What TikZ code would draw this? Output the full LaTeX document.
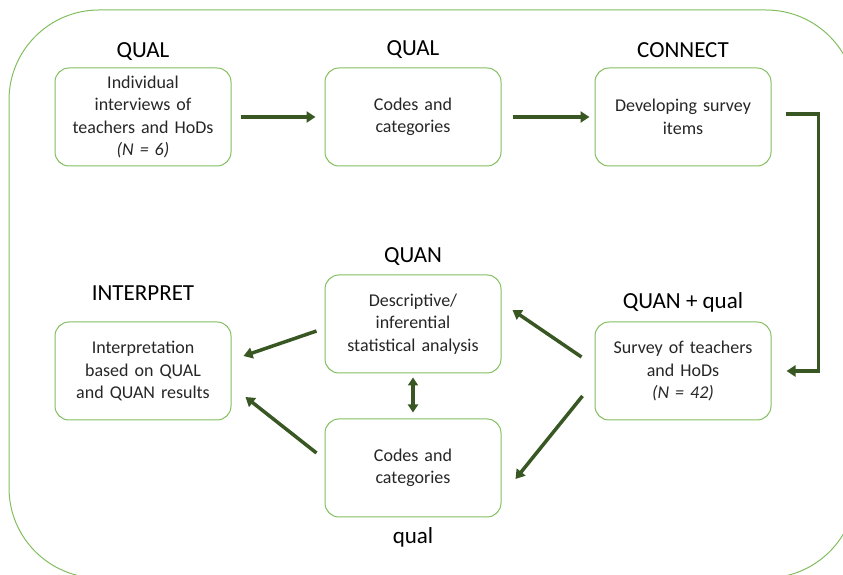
\documentclass[tikz,border=0pt]{standalone}
\usepackage{fontspec}
\setmainfont{Carlito}
\usetikzlibrary{positioning, arrows.meta}
\definecolor{boxgreen}{RGB}{130,190,95}
\definecolor{arrowgreen}{RGB}{56,87,35}
\tikzset{
>={Triangle[length=8pt,width=10pt]}, % filled heads for all connectors
node distance=93pt, % horizontal gap between the boxes
stage/.style={draw=boxgreen, line width=1pt, rounded corners=14pt,
  minimum width=176pt, minimum height=98pt, text width=170pt,
  align=center, inner sep=0pt, text=black!85,
  font=\fontsize{18}{22.5}\selectfont},
title/.style={anchor=base, inner sep=0pt, font=\fontsize{23}{26}\selectfont},
flow/.style={draw=arrowgreen, line width=3.5pt, arrows={-{Triangle[length=9pt,width=11pt]}}}
}
\begin{document}
\begin{tikzpicture}[x=1pt, y=1pt]
  \useasboundingbox (0,0) rectangle (843,575);
  \clip (0,0) rectangle (843,575);
  % outer frame
  \draw[boxgreen, line width=1pt, rounded corners=90pt] (9,565) rectangle (856,-3);
  % top row
  \node[stage] (interviews) at (143,458) {Individual\\interviews of\\teachers and HoDs\\\textit{(N = 6)}};
  \node[stage, right=of interviews] (codestop) {Codes and\\categories};
  \node[stage, right=of codestop] (items) {Developing survey\\items};
  % bottom rows
  \node[stage, below=155pt of items] (survey) {Survey of teachers\\and HoDs\\\textit{(N = 42)}};
  \node[stage, below=155pt of interviews] (interp) {Interpretation\\based on QUAL\\and QUAN results};
  \node[stage, below=108pt of codestop] (stats) {Descriptive/\\inferential\\statistical analysis};
  \node[stage, below=45pt of stats] (codesbot) {Codes and\\categories};
  % titles
  \node[title] (t1) at ([yshift=10pt]interviews.north) {QUAL};
  \node[title] (t2) at ([yshift=12pt]codestop.north) {QUAL};
  \node[title] (t3) at ([yshift=10pt]items.north) {CONNECT};
  \node[title] (t4) at ([yshift=13pt]survey.north) {QUAN + qual};
  \node[title] (t5) at ([yshift=12pt]stats.north) {QUAN};
  \node[title] (t6) at ([yshift=21pt]interp.north) {INTERPRET};
  \node[title] (t7) at ([yshift=-26pt]codesbot.south) {qual};
  % connectors
  \draw[flow, shorten <=9pt, shorten >=9pt] (interviews) -- (codestop);
  \draw[flow, shorten <=11pt, shorten >=5pt] (codestop) -- (items);
  \draw[flow] ([xshift=14pt,yshift=3pt]items.east) -- ++(33pt,0) |- ([xshift=15pt]survey.east);
  \draw[flow] ([xshift=-13pt,yshift=14pt]survey.west) -- ([xshift=11pt,yshift=14pt]stats.east);
  \draw[flow] ([xshift=-12pt,yshift=-25pt]survey.west) -- ([xshift=14pt,yshift=-11pt]codesbot.east);
  \draw[flow] ([xshift=-8pt,yshift=-7pt]stats.west) -- ([xshift=12pt,yshift=15pt]interp.east);
  \draw[flow] ([xshift=-8pt,yshift=15pt]codesbot.west) -- ([xshift=14pt,yshift=-26pt]interp.east);
  \draw[flow, arrows={{Triangle[length=8pt,width=10pt]}-{Triangle[length=8pt,width=10pt]}}]
    ([yshift=-4pt]stats.south) -- ([yshift=6pt]codesbot.north);
\end{tikzpicture}
\end{document}
